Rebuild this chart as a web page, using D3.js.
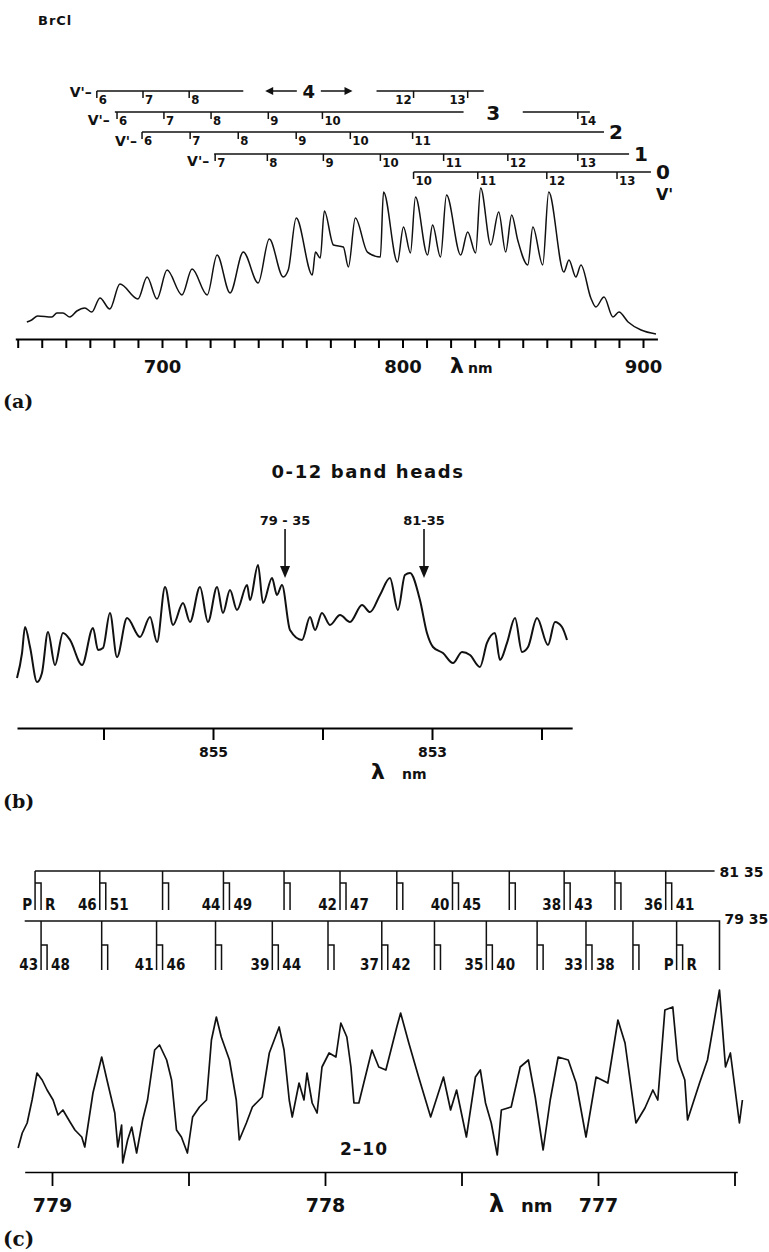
<!DOCTYPE html>
<html>
<head>
<meta charset="utf-8">
<script src="https://cdn.jsdelivr.net/npm/d3@7"></script>
<style>
  body { margin: 0; background: #fff; }
  svg text { font-family: "DejaVu Sans", sans-serif; font-weight: bold; fill: #111; }
  svg .cond { font-family: "DejaVu Sans Condensed", "DejaVu Sans", sans-serif; }
  svg .serif { font-family: "DejaVu Serif", serif; }
</style>
</head>
<body>
<svg id="fig" width="769" height="1252"></svg>
<script>
// ---------- (a) BrCl overview spectrum ----------
const a_nm = [643.8,645.8,648.3,654.2,656.3,658.8,661.7,664.6,667.9,670.8,674.2,678.3,682.5,690.0,693.8,697.9,702.1,708.3,712.5,718.8,722.9,728.3,733.8,740.0,744.6,750.4,752.5,755.8,762.5,763.8,765.8,767.5,771.3,775.4,777.5,780.4,785.4,790.8,792.1,797.9,800.4,803.3,805.4,810.4,812.5,815.8,818.3,824.2,827.1,830.4,832.5,836.7,840.0,842.9,845.4,847.9,852.1,854.2,858.3,860.8,867.1,869.2,872.1,874.2,878.3,880.4,883.8,887.5,890.0,893.8,899.2,905.4];
const a_int = [10.7,12.0,14.7,14.0,16.7,16.7,14.0,18.0,20.0,17.3,26.7,19.3,36.0,26.0,40.7,26.0,45.3,28.7,46.0,28.7,55.3,30.0,57.3,36.7,66.0,40.7,45.3,80.0,42.0,57.3,53.3,84.7,62.0,60.7,47.3,80.0,57.3,54.0,97.3,50.7,74.0,56.7,94.0,55.3,75.3,54.0,95.3,55.3,70.7,56.7,100.0,62.0,84.0,57.3,82.0,65.3,48.7,74.0,48.7,97.3,44.0,52.0,40.7,48.7,26.7,20.7,27.3,14.0,17.3,10.7,5.3,2.7];
const a_ticks = d3.range(640, 901, 10);

// v'' progressions: band heads (nm) and v' labels
const v4_vp = [6, 7, 8, 12, 13];
const v4_nm = [672.9, 692.1, 711.3, 804.6, 827.1];
const v3_vp = [6, 7, 8, 9, 10, 14];
const v3_nm = [681.3, 700.8, 720.4, 744.2, 766.7, 872.9];
const v2_vp = [6, 7, 8, 9, 10, 11];
const v2_nm = [691.7, 711.7, 731.7, 755.8, 778.3, 804.2];
const v1_vp = [7, 8, 9, 10, 11, 12, 13];
const v1_nm = [722.1, 743.8, 767.1, 790.8, 817.1, 843.8, 872.9];
const v0_vp = [10, 11, 12, 13];
const v0_nm = [804.6, 831.3, 860.0, 889.2];

// ---------- (b) 0-12 band heads ----------
const b_nm = [856.790,856.744,856.717,856.671,856.607,856.562,856.507,856.443,856.370,856.306,856.196,856.096,856.050,856.005,855.941,855.877,855.785,855.667,855.575,855.511,855.438,855.365,855.274,855.210,855.119,855.046,854.963,854.909,854.845,854.781,854.689,854.662,854.589,854.543,854.461,854.416,854.370,854.297,854.187,854.114,854.068,854.005,853.932,853.840,853.749,853.639,853.566,853.475,853.384,853.311,853.247,853.201,853.110,853.046,852.991,852.900,852.808,852.726,852.653,852.562,852.498,852.425,852.379,852.315,852.242,852.178,852.123,852.041,851.941,851.877,851.813,851.767];
const b_int = [33.3,50.0,67.3,54.0,30.7,36.7,64.0,42.0,63.3,58.7,42.0,66.7,52.0,53.3,76.7,47.3,73.3,60.7,74.0,57.3,94.0,68.7,83.3,70.7,94.0,70.7,94.0,76.7,92.0,78.7,95.3,85.3,108.7,83.3,100.0,88.7,95.3,65.3,58.7,74.0,65.3,76.7,68.7,75.3,70.7,82.0,77.3,88.7,100.0,78.7,102.0,103.3,85.3,63.3,54.0,50.0,43.3,50.7,48.7,40.7,56.7,63.3,45.3,56.7,73.3,50.7,54.0,73.3,55.3,70.7,67.3,58.7];
const b_ticks = [856, 855, 854, 853, 852];
const b_heads = ["79 - 35", "81-35"];
const b_heads_nm = [854.342, 853.073];

// ---------- (c) 2-10 band rotational structure ----------
const c_nm = [779.124,779.109,779.091,779.073,779.055,779.036,779.018,778.996,778.978,778.960,778.934,778.916,778.891,778.880,778.869,778.850,778.818,778.796,778.770,778.759,778.745,778.741,778.723,778.708,778.690,778.668,778.650,778.624,778.606,778.580,778.562,778.544,778.526,778.504,778.485,778.460,778.434,778.416,778.398,778.380,778.350,778.325,778.314,778.288,778.266,778.230,778.204,778.186,778.168,778.150,778.131,778.120,778.095,778.077,778.066,778.047,778.029,778.011,777.985,777.960,777.942,777.920,777.905,777.894,777.876,777.858,777.828,777.803,777.777,777.737,777.723,777.693,777.657,777.613,777.566,777.540,777.518,777.482,777.449,777.431,777.412,777.391,777.369,777.354,777.318,777.285,777.255,777.230,777.201,777.175,777.146,777.109,777.080,777.044,777.007,776.964,776.927,776.901,776.861,776.828,776.799,776.781,776.755,776.726,776.708,776.682,776.672,776.628,776.599,776.555,776.533,776.515,776.482,776.471];
const c_int = [12.0,19.5,24.5,36.0,49.5,46.0,41.0,36.0,28.5,31.0,25.0,21.0,17.5,12.5,22.5,39.5,57.5,44.5,29.5,12.5,23.5,4.5,16.0,22.5,9.5,26.0,36.0,61.0,63.5,56.0,46.0,21.0,17.5,9.5,27.5,32.5,36.0,66.0,77.5,67.5,56.0,36.0,16.0,24.5,32.5,37.5,59.5,66.0,72.5,61.0,36.0,27.5,44.5,36.0,49.5,34.5,29.5,52.5,59.5,57.5,74.5,67.5,52.5,34.5,34.5,44.5,61.0,52.5,51.0,72.5,79.5,64.5,47.5,27.5,47.5,31.0,41.0,17.5,47.5,51.0,34.5,24.5,8.5,31.0,32.5,52.5,56.0,37.5,11.0,36.0,57.5,56.0,44.5,17.5,47.5,44.5,76.0,64.5,24.5,32.0,41.0,36.0,81.0,82.5,56.0,46.0,26.0,44.5,56.0,91.0,52.5,59.5,24.5,36.0];
const c_ticks = [779, 778.5, 778, 777.5, 777, 776.5];

// P/R doublet assignments, 81-35 isotopomer
const c81_nm = [779.062,778.825,778.595,778.372,778.150,777.945,777.737,777.533,777.325,777.124,776.938,776.752];
const c81_P = ["P","46","","44","","42","","40","","38","","36"];
const c81_R = ["R","51","","49","","47","","45","","43","","41"];
// 79-35 isotopomer
const c79_nm = [779.040,778.818,778.617,778.401,778.193,777.989,777.792,777.599,777.409,777.223,777.044,776.872,776.712];
const c79_P = ["43","","41","","39","","37","","35","","33","","P"];
const c79_R = ["48","","46","","44","","42","","40","","38","","R"];

const svg = d3.select("#fig");

// =============== panel (a) ===============
const xA = d3.scaleLinear().domain([700, 900]).range([162, 643]);
const yA = d3.scaleLinear().domain([0, 100]).range([338, 188]);

svg.append("text").attr("x", 38).attr("y", 25).attr("font-size", 13)
  .attr("letter-spacing", 1).text("BrCl");

svg.append("path")
  .datum(d3.zip(a_nm, a_int))
  .attr("fill", "none").attr("stroke", "#111").attr("stroke-width", 1.5)
  .attr("stroke-linejoin", "round")
  .attr("d", d3.line().curve(d3.curveMonotoneX).x(d => xA(d[0])).y(d => yA(d[1])));

const axA = svg.append("g").attr("transform", "translate(0,339)")
  .call(d3.axisBottom(xA.copy().domain([639, 906]).range([xA(639), xA(906)]))
    .tickValues(a_ticks).tickSizeInner(9).tickSizeOuter(0).tickPadding(12)
    .tickFormat(d => d % 100 === 0 ? d : ""));
axA.select(".domain").attr("stroke-width", 2);
axA.selectAll(".tick line").attr("stroke-width", 2);
axA.selectAll(".tick text").attr("font-size", 18).attr("font-family", null).attr("fill", "#111");
svg.append("text").attr("x", 450).attr("y", 373).attr("font-size", 22).attr("font-weight", "normal").text("λ");
svg.append("text").attr("x", 468).attr("y", 373).attr("font-size", 14).text("nm");
svg.append("text").attr("class", "serif").attr("x", 3).attr("y", 408).attr("font-size", 19).text("(a)");

// progression brackets
const rows = [
  { y: 91,  vp: v4_vp, nm: v4_nm, seg: [[672.9, 733.8], [789.2, 833.8]], left: [3, 4], pre: 6 },
  { y: 112, vp: v3_vp, nm: v3_nm, seg: [[680.4, 825.4], [850.0, 877.9]], left: [], pre: 13 },
  { y: 132, vp: v2_vp, nm: v2_nm, seg: [[691.7, 883.8]], left: [], pre: 14 },
  { y: 154, vp: v1_vp, nm: v1_nm, seg: [[721.7, 894.2]], left: [], pre: 12 },
  { y: 172, vp: v0_vp, nm: v0_nm, seg: [[804.6, 903.3]], left: [], pre: 0 }
];
const gB = svg.append("g");
rows.forEach(r => {
  r.seg.forEach(s => gB.append("line")
    .attr("x1", xA(s[0])).attr("x2", xA(s[1])).attr("y1", r.y).attr("y2", r.y)
    .attr("stroke", "#111").attr("stroke-width", 1.5));
  r.nm.forEach((n, i) => {
    gB.append("line").attr("x1", xA(n)).attr("x2", xA(n)).attr("y1", r.y).attr("y2", r.y + 7)
      .attr("stroke", "#111").attr("stroke-width", 1.5);
    const isLeft = r.left.includes(i);
    gB.append("text").attr("class", "cond").attr("font-size", 13)
      .attr("x", isLeft ? xA(n) - 2 : xA(n) + 2).attr("y", r.y + 13)
      .attr("text-anchor", isLeft ? "end" : "start").text(r.vp[i]);
  });
  if (r.pre) {
    gB.append("text").attr("font-size", 14).attr("text-anchor", "end")
      .attr("x", xA(r.seg[0][0]) - 5).attr("y", r.y + r.pre).text("V'–");
  }
});
// v'' labels
gB.append("text").attr("font-size", 20).attr("text-anchor", "middle")
  .attr("x", (xA(825.4) + xA(850.0)) / 2).attr("y", 120).text("3");
[[2, 132, 883.8], [1, 154, 894.2], [0, 172, 903.3]].forEach(d =>
  gB.append("text").attr("font-size", 20).attr("x", xA(d[2]) + 5).attr("y", d[1] + 7).text(d[0]));
gB.append("text").attr("font-size", 16).attr("x", xA(903.3) + 5).attr("y", 200).text("V'");
// "<- 4 ->" for v''=4 gap
const gap4 = [742.9, 779.2];
const gx = (xA(gap4[0]) + xA(gap4[1])) / 2;
gB.append("text").attr("font-size", 18).attr("text-anchor", "middle").attr("x", gx).attr("y", 98).text("4");
gB.append("line").attr("x1", xA(gap4[0]) + 6).attr("x2", gx - 12).attr("y1", 91).attr("y2", 91)
  .attr("stroke", "#111").attr("stroke-width", 1.5);
gB.append("line").attr("x1", gx + 12).attr("x2", xA(gap4[1]) - 6).attr("y1", 91).attr("y2", 91)
  .attr("stroke", "#111").attr("stroke-width", 1.5);
const xl = xA(gap4[0]), xr = xA(gap4[1]);
gB.append("path").attr("d", `M${xl},91 L${xl + 8},87 L${xl + 8},95 Z`).attr("fill", "#111");
gB.append("path").attr("d", `M${xr},91 L${xr - 8},87 L${xr - 8},95 Z`).attr("fill", "#111");

// =============== panel (b) ===============
const xB = d3.scaleLinear().domain([855, 853]).range([213, 432]);
const yB = d3.scaleLinear().domain([0, 100]).range([728, 578]);

svg.append("text").attr("x", 368).attr("y", 478).attr("font-size", 18)
  .attr("letter-spacing", 1.6).attr("text-anchor", "middle").text("0-12 band heads");

svg.append("path")
  .datum(d3.zip(b_nm, b_int))
  .attr("fill", "none").attr("stroke", "#111").attr("stroke-width", 2)
  .attr("stroke-linejoin", "round")
  .attr("d", d3.line().curve(d3.curveMonotoneX).x(d => xB(d[0])).y(d => yB(d[1])));

b_heads_nm.forEach((n, i) => {
  const x = xB(n);
  svg.append("text").attr("font-size", 13).attr("text-anchor", "middle")
    .attr("x", x).attr("y", 525).text(b_heads[i]);
  svg.append("line").attr("x1", x).attr("x2", x).attr("y1", 529).attr("y2", 568)
    .attr("stroke", "#111").attr("stroke-width", 1.6);
  svg.append("path").attr("d", `M${x - 5},566 L${x + 5},566 L${x},578 Z`).attr("fill", "#111");
});

const axB = svg.append("g").attr("transform", "translate(0,728)")
  .call(d3.axisBottom(xB.copy().domain([856.79, 851.72]).range([xB(856.79), xB(851.72)]))
    .tickValues(b_ticks).tickSizeInner(12).tickSizeOuter(0).tickPadding(7)
    .tickFormat(d => (d === 855 || d === 853) ? d : ""));
axB.select(".domain").attr("stroke-width", 2);
axB.selectAll(".tick line").attr("stroke-width", 2);
axB.selectAll(".tick text").attr("font-size", 14).attr("font-family", null).attr("fill", "#111");
svg.append("text").attr("x", 371).attr("y", 779).attr("font-size", 22).attr("font-weight", "normal").text("λ");
svg.append("text").attr("x", 402).attr("y", 779).attr("font-size", 14).text("nm");
svg.append("text").attr("class", "serif").attr("x", 3).attr("y", 808).attr("font-size", 19).text("(b)");

// =============== panel (c) ===============
const xC = d3.scaleLinear().domain([779, 777]).range([52, 598]);
const yC = d3.scaleLinear().domain([0, 100]).range([1172, 972]);

function doublets(g, nm, P, R, lineY, midY, botY) {
  nm.forEach((n, i) => {
    const x = xC(n);
    g.append("path").attr("d", `M${x},${lineY} V${botY} M${x},${midY} H${x + 6} V${botY}`)
      .attr("fill", "none").attr("stroke", "#111").attr("stroke-width", 1.5);
    if (P[i]) g.append("text").attr("class", "cond").attr("font-size", 15)
      .attr("text-anchor", "end").attr("x", x - 3).attr("y", botY).text(P[i]);
    if (R[i]) g.append("text").attr("class", "cond").attr("font-size", 15)
      .attr("x", x + 10).attr("y", botY).text(R[i]);
  });
}
const gC = svg.append("g");
gC.append("line").attr("x1", xC(c81_nm[0])).attr("x2", xC(776.573)).attr("y1", 871).attr("y2", 871)
  .attr("stroke", "#111").attr("stroke-width", 1.6);
doublets(gC, c81_nm, c81_P, c81_R, 871, 883, 910);
gC.append("text").attr("font-size", 14).attr("x", xC(776.573) + 5).attr("y", 877).text("81 35");

gC.append("path").attr("d", `M${xC(779.1)},921 H${xC(776.555)} V970`)
  .attr("fill", "none").attr("stroke", "#111").attr("stroke-width", 1.6);
doublets(gC, c79_nm, c79_P, c79_R, 921, 945, 970);
gC.append("text").attr("font-size", 14).attr("x", xC(776.555) + 5).attr("y", 924).text("79 35");

svg.append("path")
  .datum(d3.zip(c_nm, c_int))
  .attr("fill", "none").attr("stroke", "#111").attr("stroke-width", 1.7)
  .attr("stroke-linejoin", "round")
  .attr("d", d3.line().x(d => xC(d[0])).y(d => yC(d[1])));

svg.append("text").attr("x", 340).attr("y", 1155).attr("font-size", 17)
  .attr("letter-spacing", 1).text("2–10");

const axC = svg.append("g").attr("transform", "translate(0,1172)")
  .call(d3.axisBottom(xC.copy().domain([779.1, 776.49]).range([xC(779.1), xC(776.49)]))
    .tickValues(c_ticks).tickSizeInner(14).tickSizeOuter(0).tickPadding(13)
    .tickFormat(d => Number.isInteger(d) ? d : ""));
axC.select(".domain").attr("stroke-width", 1.6);
axC.selectAll(".tick line").attr("stroke-width", 1.8);
axC.selectAll(".tick text").attr("font-size", 19).attr("font-family", null).attr("fill", "#111");
svg.append("text").attr("x", 489).attr("y", 1212).attr("font-size", 24).attr("font-weight", "normal").text("λ");
svg.append("text").attr("x", 521).attr("y", 1212).attr("font-size", 18).text("nm");
svg.append("text").attr("class", "serif").attr("x", 3).attr("y", 1246).attr("font-size", 20).text("(c)");
</script>
</body>
</html>
